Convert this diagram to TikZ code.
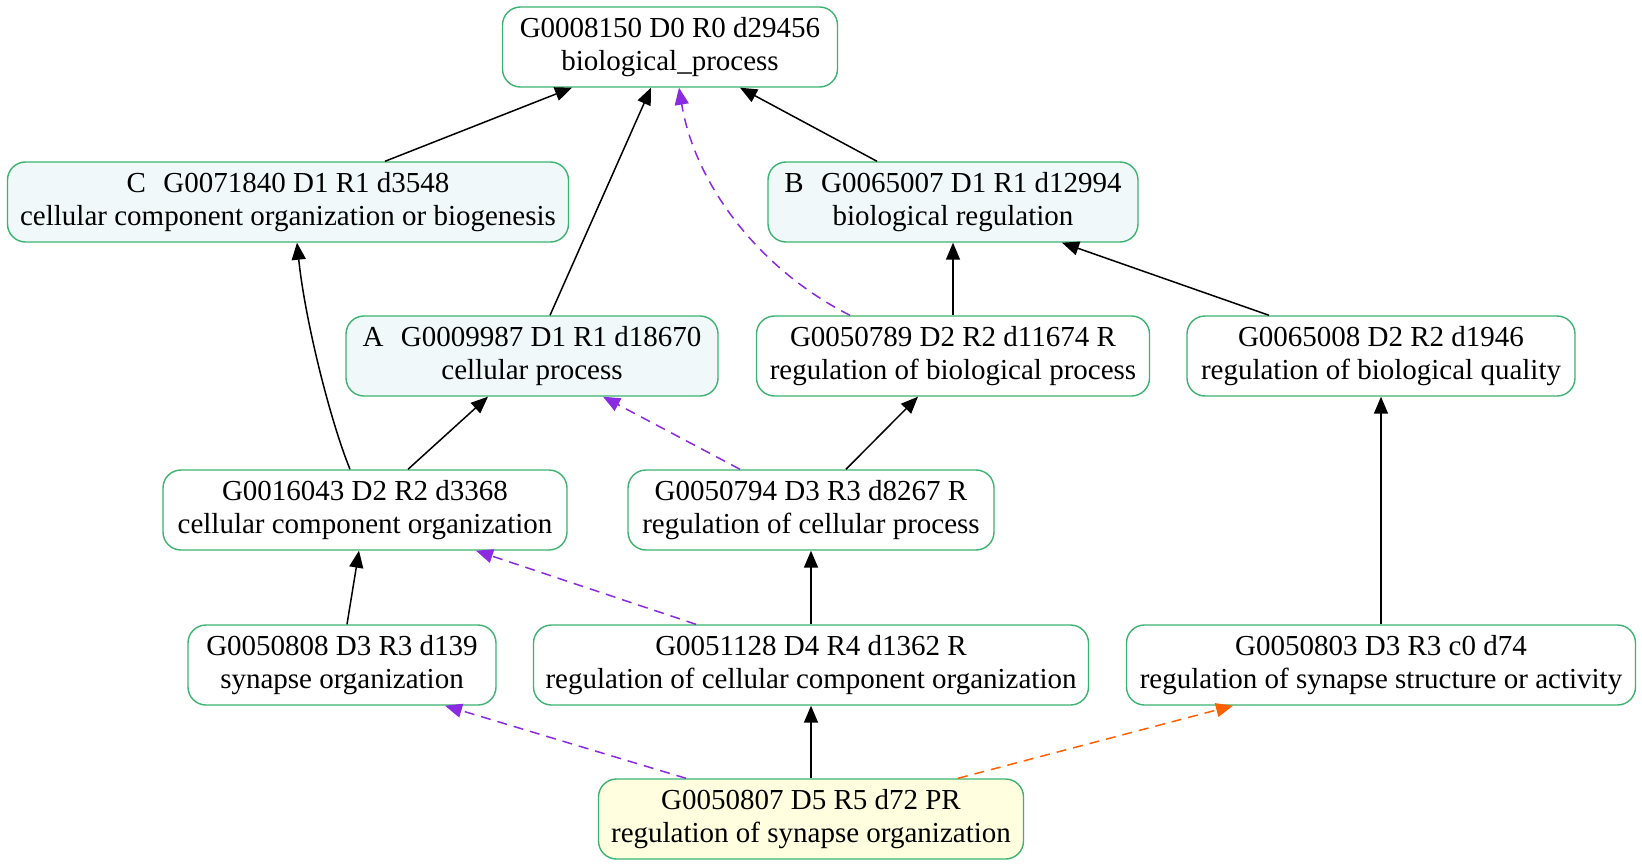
\documentclass[tikz,border=0pt]{standalone}
\usepackage{fontspec}
\setmainfont{Liberation Serif}
\usetikzlibrary{arrows.meta}
\definecolor{gborder}{RGB}{60,179,113}
\definecolor{afill}{RGB}{240,248,250}
\definecolor{yfill}{RGB}{255,255,224}
\definecolor{purp}{RGB}{138,43,226}
\definecolor{orng}{RGB}{255,96,0}
\tikzset{
  term/.style={draw=gborder, line width=1.4pt, rounded corners=18pt, fill=white,
    minimum height=80pt, align=center, inner sep=4pt,
    font=\fontsize{29}{32.5}\selectfont},
  hl/.style={term, fill=afill},
  leaf/.style={term, fill=yfill},
  isa/.style={line width=1.5pt, -{Triangle[length=17pt,width=14pt]}},
  reg/.style={isa, purp, dashed, dash pattern=on 10pt off 7pt},
  preg/.style={isa, orng, dashed, dash pattern=on 10pt off 7pt}
}
\begin{document}
\begin{tikzpicture}[x=1pt,y=-1pt]
\useasboundingbox (0,0) rectangle (1642,867);
\node[term, minimum width=335pt] (n0) at (670,47) {G0008150 D0 R0 d29456\\biological\_process};
\node[hl, minimum width=561pt] (c) at (288,202) {C\hspace{0.6em}G0071840 D1 R1 d3548\\cellular component organization or biogenesis};
\node[hl, minimum width=370pt] (b) at (953,202) {B\hspace{0.6em}G0065007 D1 R1 d12994\\biological regulation};
\node[hl, minimum width=372pt] (a) at (532,356) {A\hspace{0.6em}G0009987 D1 R1 d18670\\cellular process};
\node[term, minimum width=393pt] (n789) at (953,356) {G0050789 D2 R2 d11674 R\\regulation of biological process};
\node[term, minimum width=388pt] (n008) at (1381,356) {G0065008 D2 R2 d1946\\regulation of biological quality};
\node[term, minimum width=404pt] (n043) at (365,510) {G0016043 D2 R2 d3368\\cellular component organization};
\node[term, minimum width=366pt] (n794) at (811,510) {G0050794 D3 R3 d8267 R\\regulation of cellular process};
\node[term, minimum width=308pt] (n808) at (342,665) {G0050808 D3 R3 d139\\synapse organization};
\node[term, minimum width=555pt] (n128) at (811,665) {G0051128 D4 R4 d1362 R\\regulation of cellular component organization};
\node[term, minimum width=509pt] (n803) at (1381,665) {G0050803 D3 R3 c0 d74\\regulation of synapse structure or activity};
\node[leaf, minimum width=425pt] (n807) at (811,819) {G0050807 D5 R5 d72 PR\\regulation of synapse organization};

\draw[isa] ([xshift=97pt]c.north) -- ([xshift=-98pt]n0.south);
\draw[isa] ([xshift=18pt]a.north) -- ([xshift=-19pt]n0.south);
\draw[reg] ([xshift=-103pt]n789.north) .. controls (760,270) and (695,185) .. ([xshift=9pt]n0.south);
\draw[isa] ([xshift=-76pt]b.north) -- ([xshift=70pt]n0.south);
\draw[isa] ([xshift=-15pt]n043.north) .. controls (330,420) and (305,320) .. ([xshift=9pt]c.south);
\draw[isa] ([xshift=43pt]n043.north) -- ([xshift=-44pt]a.south);
\draw[reg] ([xshift=-71pt]n794.north) -- ([xshift=71pt]a.south);
\draw[isa] (n789.north) -- (b.south);
\draw[isa] ([xshift=-112pt]n008.north) -- ([xshift=109pt]b.south);
\draw[isa] ([xshift=35pt]n794.north) -- ([xshift=-35pt]n789.south);
\draw[isa] ([xshift=5pt]n808.north) -- ([xshift=-6pt]n043.south);
\draw[reg] ([xshift=-115pt]n128.north) -- ([xshift=111pt]n043.south);
\draw[isa] (n128.north) -- (n794.south);
\draw[isa] (n803.north) -- (n008.south);
\draw[reg] ([xshift=-125pt]n807.north) -- ([xshift=103pt]n808.south);
\draw[isa] (n807.north) -- (n128.south);
\draw[preg] ([xshift=147pt]n807.north) -- ([xshift=-148pt]n803.south);
\end{tikzpicture}
\end{document}
